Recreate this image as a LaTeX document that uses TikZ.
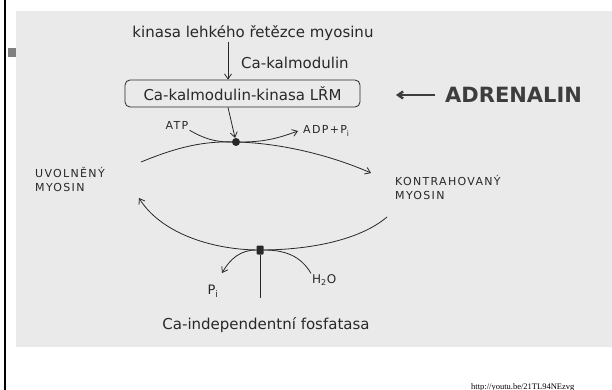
\documentclass[tikz,border=0pt]{standalone}
\usepackage{fontspec}
\setmainfont{DejaVu Sans}
\newfontfamily\capsfont[LetterSpace=12]{DejaVu Sans}
\newfontfamily\urlfont{Liberation Serif}
\usetikzlibrary{arrows.meta}
\definecolor{panel}{RGB}{234,234,234}
\definecolor{ink}{RGB}{40,40,40}
\begin{document}
\begin{tikzpicture}[x=1pt, y=-1pt, >={Straight Barb[length=5pt,width=7pt]},
  hand/.style={font=\fontsize{15}{18}\selectfont, text=ink, inner sep=1pt},
  caps/.style={font=\capsfont\fontsize{11}{14}\selectfont, text=ink, align=left, inner sep=1pt},
  pen/.style={draw=ink, line width=0.8pt}]
\useasboundingbox (0,0) rectangle (612,390);
\fill[panel] (16,11) rectangle (612,347);
\draw[line width=2.5pt] (5,0) -- (5,390);
\fill[gray] (8,48) rectangle (16,57);
\node[hand] (title) at (253,33) {kinasa lehkého řetězce myosinu};
\node[hand, anchor=west] (kal) at (240,63) {Ca-kalmodulin};
\node[hand, draw=ink, line width=0.8pt, rounded corners=5pt, minimum width=235pt, minimum height=27pt] (box) at (242.5,93.5) {Ca-kalmodulin-kinasa LŘM};
\node[font=\fontsize{21}{24}\selectfont\bfseries, text=ink!90, anchor=west, inner sep=0pt] (adr) at (445,95) {ADRENALIN};
\coordinate (adrtip) at (396,95);
\coordinate (ax) at (228,0);
\node[fill=ink, circle, inner sep=0pt, minimum size=8pt] (dot1) at (236,142) {};
\node[fill=ink, rounded corners=1pt, inner sep=0pt, minimum width=7pt, minimum height=9pt] (dot2) at (260,250) {};
\node[caps, font=\capsfont\fontsize{11}{13}\selectfont] (atp) at (177,125) {ATP};
\node[caps, font=\capsfont\fontsize{11}{13}\selectfont, anchor=west] (adp) at (302,131) {ADP+P\textsubscript{i}};
\node[caps, anchor=west] (uvol) at (34,179) {UVOLNĚNÝ\\MYOSIN};
\node[caps, anchor=west] (kontra) at (394,187) {KONTRAHOVANÝ\\MYOSIN};
\node[hand, font=\fontsize{13}{15}\selectfont] (pi) at (213,291) {P\textsubscript{i}};
\node[caps, font=\capsfont\fontsize{12}{14}\selectfont, anchor=west] (h2o) at (311,280) {H\textsubscript{2}O};
\node[hand] (fos) at (266,325) {Ca-independentní fosfatasa};
\node[font=\urlfont\fontsize{8.5}{10}\selectfont, anchor=base west, inner sep=0pt] (url) at (471,389) {http://youtu.be/21TL94NEzvg};
\coordinate (a1) at (141,162);
\coordinate (a2) at (371,173);
\coordinate (b1) at (387,217);
\coordinate (b2) at (139,198);
\coordinate (pitip) at (222,273);
\draw[pen, ->] (title.south -| ax) -- (box.north -| ax);
\draw[pen, ->] (box.south -| ax) -- (dot1);
\draw[->, draw=ink!90, line width=2.4pt, shorten <=10pt] (adr.west) -- (adrtip);
\draw[pen] (atp.south east) to[out=-30, in=180] (dot1);
\draw[pen, ->] (dot1) to[out=0, in=200] ([xshift=-4pt]adp.west);
\draw[pen, ->] (a1) .. controls (180,146) and (205,141) .. (dot1.center) .. controls (280,143) and (330,155) .. (a2);
\draw[pen, ->] (b1) .. controls (360,240) and (310,250) .. (dot2.center) .. controls (210,250) and (160,232) .. (b2);
\draw[pen, ->] (dot2) to[out=180, in=60] (pitip);
\draw[pen, shorten >=18pt] (dot2) -- (fos.north -| dot2);
\draw[pen] (dot2) to[out=0, in=120] (h2o.north west);
\end{tikzpicture}
\end{document}
